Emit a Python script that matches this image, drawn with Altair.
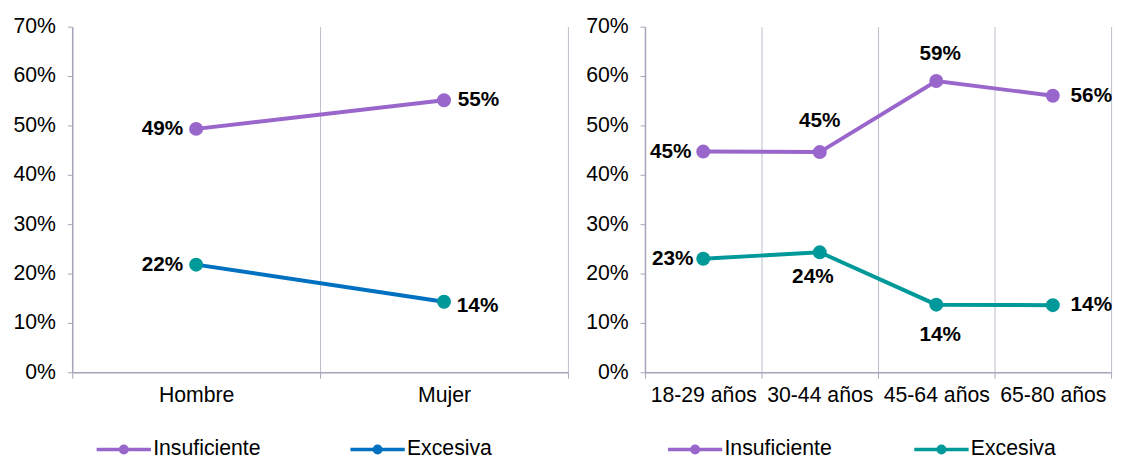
import altair as alt
import pandas as pd

SERIES = ["Insuficiente", "Excesiva"]

SEX_CATS = ["Hombre", "Mujer"]
SEX_INSUF = [0.493, 0.551]
SEX_EXC = [0.218, 0.143]

AGE_CATS = ["18-29 años", "30-44 años", "45-64 años", "65-80 años"]
AGE_INSUF = [0.447, 0.446, 0.590, 0.560]
AGE_EXC = [0.230, 0.243, 0.137, 0.136]

Y_TICKS = [0.0, 0.1, 0.2, 0.3, 0.4, 0.5, 0.6, 0.7]

PURPLE = "#9966CC"
TEAL = "#009999"
BLUE = "#0070C0"
FONT = "Liberation Sans"
AXIS_GRAY = "#A6A6BA"
GRID_GRAY = "#BDBDCB"

# label placement per point: (align, dx, dy)
SEX_LABELS = {
    ("Hombre", "Insuficiente"): ("right", -13, 0),
    ("Mujer", "Insuficiente"): ("left", 14, 0),
    ("Hombre", "Excesiva"): ("right", -13, 0),
    ("Mujer", "Excesiva"): ("left", 13, 4),
}
AGE_LABELS = {
    ("18-29 años", "Insuficiente"): ("right", -12, 0),
    ("30-44 años", "Insuficiente"): ("center", 0, -31),
    ("45-64 años", "Insuficiente"): ("center", 4, -27),
    ("65-80 años", "Insuficiente"): ("left", 18, 0),
    ("18-29 años", "Excesiva"): ("right", -10, 0),
    ("30-44 años", "Excesiva"): ("center", -7, 25),
    ("45-64 años", "Excesiva"): ("center", 4, 31),
    ("65-80 años", "Excesiva"): ("left", 18, 0),
}

LEGEND_PATH = "M-5,0L5,0M-0.6,0A0.6,0.6,0,1,1,0.6,0A0.6,0.6,0,1,1,-0.6,0"


def make_df(cats, insuf, exc):
    rows = []
    for c, v in zip(cats, insuf):
        rows.append({"cat": c, "serie": "Insuficiente", "valor": v})
    for c, v in zip(cats, exc):
        rows.append({"cat": c, "serie": "Excesiva", "valor": v})
    return pd.DataFrame(rows)


def panel(cats, insuf, exc, width, stroke_colors, fill_colors, labels, legend_x, col_pad):
    df = make_df(cats, insuf, exc)
    x = alt.X(
        "cat:N",
        sort=cats,
        scale=alt.Scale(type="band", paddingInner=0, paddingOuter=0),
        axis=alt.Axis(
            title=None, labelAngle=0, grid=True, tickBand="extent",
            gridColor=GRID_GRAY, gridWidth=1, domainColor=AXIS_GRAY, domainWidth=1.5,
            tickColor=AXIS_GRAY, tickSize=6, labelFont=FONT, labelFontSize=21.5,
            labelColor="#000000", labelPadding=7,
        ),
    )
    y = alt.Y(
        "valor:Q",
        scale=alt.Scale(domain=[0, 0.7], nice=False),
        axis=alt.Axis(
            title=None, values=Y_TICKS, format=".0%", grid=False,
            domainColor=AXIS_GRAY, domainWidth=1.5, tickColor=AXIS_GRAY, tickSize=5,
            labelFont=FONT, labelFontSize=21.5, labelColor="#000000", labelPadding=12,
        ),
    )
    leg = alt.Legend(
        title=None, orient="none", legendX=legend_x, legendY=417, direction="horizontal",
        symbolType=LEGEND_PATH, symbolSize=121, symbolStrokeWidth=3.5,
        labelFont=FONT, labelFontSize=21.5, labelColor="#000000", labelOffset=19,
        columnPadding=col_pad, padding=0,
    )
    base = alt.Chart(df).encode(x=x, y=y)
    lines = base.mark_line(strokeWidth=4).encode(
        stroke=alt.Stroke("serie:N", scale=alt.Scale(domain=SERIES, range=stroke_colors), legend=leg)
    )
    points = base.mark_circle(size=200, opacity=1).encode(
        fill=alt.Fill("serie:N", scale=alt.Scale(domain=SERIES, range=fill_colors), legend=leg)
    )
    layers = [lines, points]
    for (cat, ser), (align, dx, dy) in labels.items():
        t = base.transform_filter(
            (alt.datum.cat == cat) & (alt.datum.serie == ser)
        ).mark_text(
            align=align, baseline="middle", dx=dx, dy=dy, font=FONT, fontSize=21,
            fontWeight="bold", color="#000000",
        ).encode(text=alt.Text("valor:Q", format=".0%"))
        layers.append(t)
    return alt.layer(*layers).properties(width=width, height=350)


left = panel(SEX_CATS, SEX_INSUF, SEX_EXC, 502, [PURPLE, BLUE], [PURPLE, TEAL], SEX_LABELS, 41.5, 83)
right = panel(AGE_CATS, AGE_INSUF, AGE_EXC, 472, [PURPLE, TEAL], [PURPLE, TEAL], AGE_LABELS, 40, 75.5)

chart = (
    alt.hconcat(left, right, spacing=16)
    .resolve_scale(x="independent", y="independent", stroke="independent", fill="independent")
    .resolve_legend(stroke="independent", fill="independent")
    .properties(padding={"left": 4, "top": 5, "right": 5, "bottom": 5})
    .configure_view(stroke=None)
)

chart.save("out.html", embed_options={"renderer": "svg", "actions": False})
